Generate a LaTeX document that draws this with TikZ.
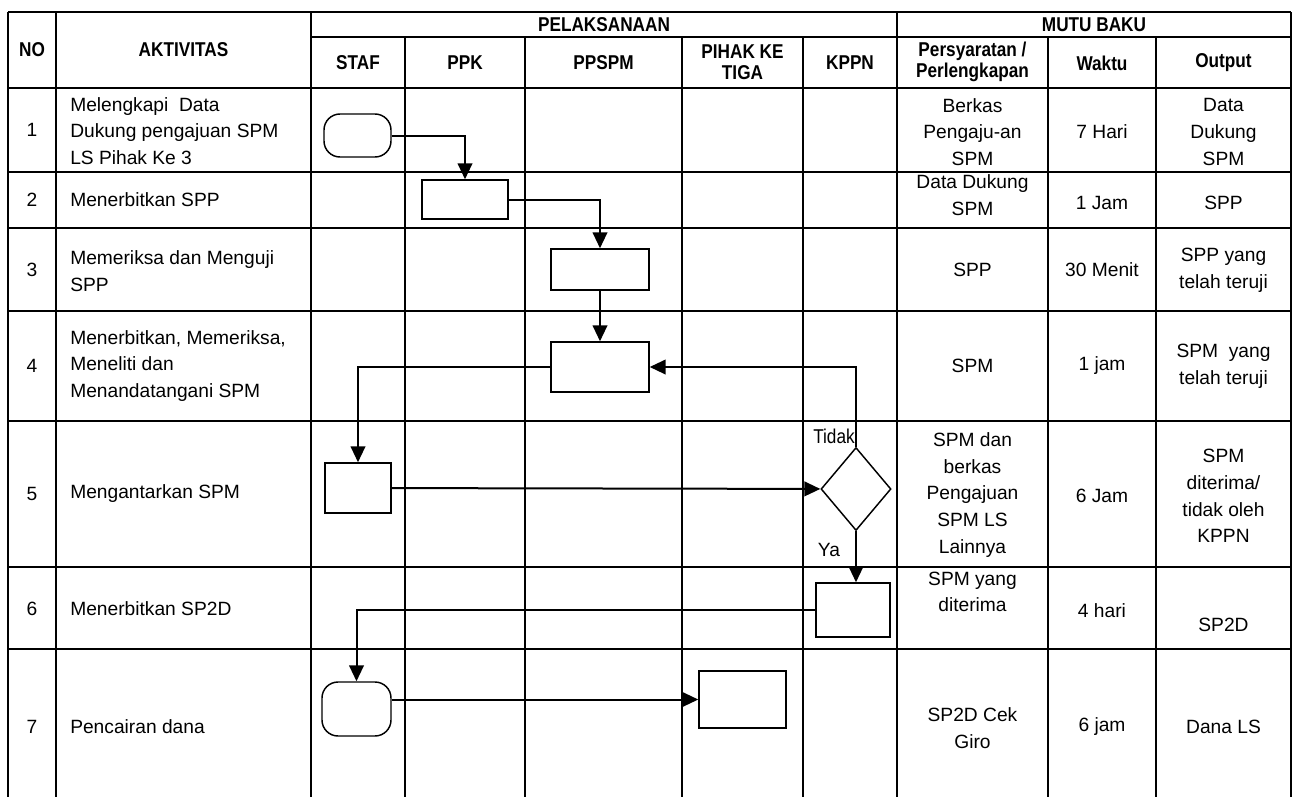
\documentclass[tikz,border=0pt]{standalone}
\usepackage{fontspec}
\setmainfont{Liberation Sans}
\newfontfamily\headfont{Liberation Sans}[FakeStretch=0.86]
\usetikzlibrary{shapes.geometric, arrows.meta, positioning}

\begin{document}
\begin{tikzpicture}[
    x=0.75pt, y=-0.75pt,
    grid/.style={line width=1.6pt},
    head/.style={font=\headfont\bfseries\fontsize{15}{15.5}\selectfont, align=center, inner sep=0pt},
    cell/.style={font=\fontsize{14.4}{20}\selectfont, align=center, inner sep=0pt},
    act/.style={font=\fontsize{14.4}{20}\selectfont, align=left, anchor=west, inner sep=0pt},
    box/.style={rectangle, draw, line width=1.1pt, fill=white},
    term/.style={rectangle, draw, rounded corners=12pt, line width=1.1pt, fill=white},
    decision/.style={diamond, draw, line width=1.1pt, inner sep=0pt, fill=white},
    arrow/.style={-{Triangle[length=12pt,width=11pt]}, line width=1.5pt},
    tag/.style={font=\headfont\fontsize{15}{16}\selectfont, inner sep=0pt}
]
\useasboundingbox (0,0) rectangle (1293,797);

% Grid
\draw[grid] (8,12) -- (1291,12);
\draw[grid] (311,37) -- (1291,37);
\foreach \y in {88,172,228,311,421,567,649}
    \draw[grid] (8,\y) -- (1291,\y);
\foreach \x in {8,56,311,897,1291}
    \draw[grid] (\x,12) -- (\x,797);
\foreach \x in {405,525,682,803,1048,1156}
    \draw[grid] (\x,37) -- (\x,797);

% Header
\node[head] (no) at (32,50) {NO};
\node[head] (aktivitas) at (183.5,50) {AKTIVITAS};
\node[head] (pelaksanaan) at (604,24.5) {PELAKSANAAN};
\node[head] (mutu) at (1094,24.5) {MUTU BAKU};
\node[head] (staf) at (358,63) {STAF};
\node[head] (ppk) at (465,63) {PPK};
\node[head] (ppspm) at (603.5,63) {PPSPM};
\node[head] (pihak) at (742.5,62.5) {PIHAK KE\\TIGA};
\node[head] (kppn) at (850,63) {KPPN};
\node[head] (syarat) at (972.5,62) {Persyaratan /\\Perlengkapan};
\node[head] (waktu) at (1102,63) {Waktu};
\node[head] (output) at (1223.5,63) {Output};

% Row 1
\node[cell] (n1) at (32,130) {1};
\node[act] (a1) at (70,131) {Melengkapi~ Data\\Dukung pengajuan SPM\\LS Pihak Ke 3};
\node[cell] (p1) at (972.5,132) {Berkas\\Pengaju-an\\SPM};
\node[cell] (w1) at (1102,132) {7 Hari};
\node[cell] (o1) at (1223.5,132) {Data\\Dukung\\SPM};

% Row 2
\node[cell] (n2) at (32,200) {2};
\node[act] (a2) at (70,200) {Menerbitkan SPP};
\node[cell] (p2) at (972.5,195) {Data Dukung\\SPM};
\node[cell] (w2) at (1102,203) {1 Jam};
\node[cell] (o2) at (1223.5,203) {SPP};

% Row 3
\node[cell] (n3) at (32,270) {3};
\node[act] (a3) at (70,271) {Memeriksa dan Menguji\\SPP};
\node[cell] (p3) at (972.5,270) {SPP};
\node[cell] (w3) at (1102,270) {30 Menit};
\node[cell] (o3) at (1223.5,270) {SPP yang\\telah teruji};

% Row 4
\node[cell] (n4) at (32,366) {4};
\node[act] (a4) at (70,366) {Menerbitkan, Memeriksa,\\Meneliti dan\\Menandatangani SPM};
\node[cell] (p4) at (972.5,366) {SPM};
\node[cell] (w4) at (1102,366) {1 jam};
\node[cell] (o4) at (1223.5,366) {SPM~ yang\\telah teruji};

% Row 5
\node[cell] (n5) at (32,494) {5};
\node[act] (a5) at (70,494) {Mengantarkan SPM};
\node[cell] (p5) at (972.5,495) {SPM dan\\berkas\\Pengajuan\\SPM LS\\Lainnya};
\node[cell] (w5) at (1102,496) {6 Jam};
\node[cell] (o5) at (1223.5,496) {SPM\\diterima/\\tidak oleh\\KPPN};

% Row 6
\node[cell] (n6) at (32,609) {6};
\node[act] (a6) at (70,609) {Menerbitkan SP2D};
\node[cell] (p6) at (972.5,592) {SPM yang\\diterima};
\node[cell] (w6) at (1102,611) {4 hari};
\node[cell] (o6) at (1223.5,625) {SP2D};

% Row 7
\node[cell] (n7) at (32,727) {7};
\node[act] (a7) at (70,727) {Pencairan dana};
\node[cell] (p7) at (972.5,728) {SP2D Cek\\Giro};
\node[cell] (w7) at (1102,727) {6 jam};
\node[cell] (o7) at (1223.5,727) {Dana LS};

% Flow
\node[term, minimum width=50.25pt, minimum height=32.25pt] (t1) at (357.5,135.5) {};
\node[box, minimum width=64.5pt, minimum height=29.25pt] (b2) at (465,199.5) {};
\node[box, minimum width=73.5pt, minimum height=30.75pt] (b3) at (600,269.5) {};
\node[box, minimum width=73.5pt, minimum height=37.5pt] (b4) at (600,367) {};
\node[box, minimum width=49.5pt, minimum height=37.5pt] (b5) at (358,488) {};
\node[decision, minimum width=52.5pt, minimum height=62.25pt] (d5) at (856,489) {};
\node[box, minimum width=55.5pt, minimum height=40.5pt] (b6) at (853,610) {};
\node[term, minimum width=51.75pt, minimum height=40.5pt] (t7) at (356.5,709) {};
\node[box, minimum width=65.25pt, minimum height=42.75pt] (b7) at (742.5,699.5) {};

\draw[arrow] (t1.east) -| (b2.north);
\draw[arrow] (b2.east) -| (b3.north);
\draw[arrow] (b3) -- (b4);
\draw[arrow] (b4.west) -| (b5.north);
\draw[arrow] (b5) -- (d5);
\draw[arrow] (d5.north) |- (b4.east);
\draw[arrow] (d5.south) -- (b6.north -| d5.south);
\draw[arrow] (b6.west) -| (t7.north);
\draw[arrow] (t7.east |- b7.west) -- (b7.west);

% Labels
\node[tag] (tidak) at (834,436) {Tidak};
\node[tag, font=\fontsize{14.4}{16}\selectfont] (ya) at (829,550) {Ya};

\end{tikzpicture}
\end{document}
